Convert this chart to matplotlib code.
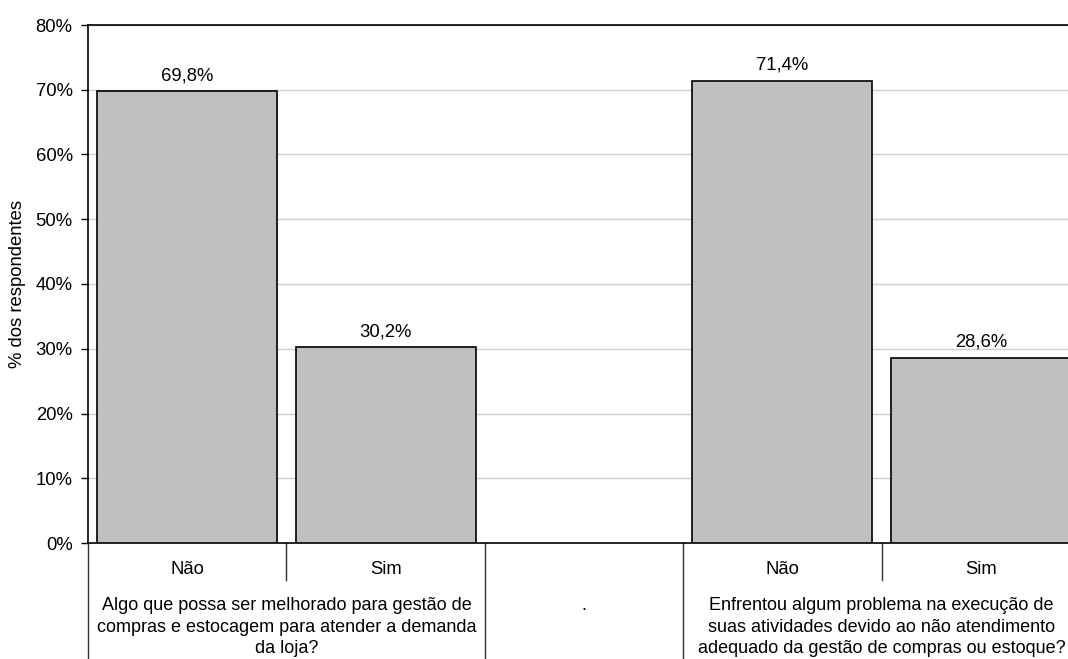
import matplotlib
matplotlib.use('Agg')
import matplotlib.pyplot as plt
from matplotlib.ticker import PercentFormatter

plt.rcParams['font.family'] = ['Liberation Sans', 'DejaVu Sans']

# respostas por pergunta (a posição do meio fica vazia)
categorias = ['Não', 'Sim', '', 'Não', 'Sim']
valores = [69.8, 30.2, None, 71.4, 28.6]
rotulos = ['69,8%', '30,2%', '', '71,4%', '28,6%']
perguntas = [
    'Algo que possa ser melhorado para gestão de\ncompras e estocagem para atender a demanda\nda loja?',
    '.',
    'Enfrentou algum problema na execução de\nsuas atividades devido ao não atendimento\nadequado da gestão de compras ou estoque?',
]
# quais categorias pertencem a cada pergunta (início, fim)
grupos = [(0, 1), (2, 2), (3, 4)]

FS = 13.3
W, H = 1068, 659
fig = plt.figure(figsize=(W / 100, H / 100), dpi=100)
# área de plotagem em pixels: esquerda 88, topo 25, base 543, direita 1080
x0, x1, ytop, ybot = 88, 1080, 25, 543
ax = fig.add_axes([x0 / W, (H - ybot) / H, (x1 - x0) / W, (ybot - ytop) / H])


def py(pix):
    # posição vertical em fração do eixo a partir de pixel da figura
    return (ybot - pix) / (ybot - ytop)


xs = [i for i, v in enumerate(valores) if v is not None]
hs = [v for v in valores if v is not None]
ax.bar(xs, hs, width=0.907, color='#C0C0C0', edgecolor='black', linewidth=1.2, zorder=3)

for i, v in enumerate(valores):
    if v is None:
        continue
    ax.annotate(rotulos[i], (i, v), xytext=(0, 5), textcoords='offset points',
                ha='center', va='bottom', fontsize=FS, color='black')

ax.set_xlim(-0.5, len(categorias) - 0.5)
ax.set_ylim(0, 80)
ax.set_yticks(range(0, 81, 10))
ax.yaxis.set_major_formatter(PercentFormatter(decimals=0))
ax.tick_params(axis='y', labelsize=FS, length=5, width=1, pad=6, colors='black')
ax.set_xticks([])
ax.grid(axis='y', color='#d0d0d0', linewidth=1, zorder=0)
ax.set_axisbelow(True)

ax.spines['right'].set_visible(False)
for lado in ['left', 'bottom', 'top']:
    ax.spines[lado].set_linewidth(1.2)
    ax.spines[lado].set_color('black')

ax.set_ylabel('% dos respondentes', fontsize=FS, labelpad=7)

trans = ax.get_xaxis_transform()

# rótulos das categorias
for i, c in enumerate(categorias):
    if c:
        ax.text(i, py(570), c, transform=trans, ha='center', va='center', fontsize=FS)

# rótulos das perguntas e linhas divisórias
for (a, b), texto in zip(grupos, perguntas):
    ax.text((a + b) / 2, py(597), texto, transform=trans, ha='center', va='top',
            fontsize=13, linespacing=1.36)
    ax.plot([a - 0.5, a - 0.5], [py(ybot), py(H + 5)], transform=trans,
            color='#303030', linewidth=1, clip_on=False)
    for k in range(a, b):
        ax.plot([k + 0.5, k + 0.5], [py(ybot), py(580)], transform=trans,
                color='#303030', linewidth=1, clip_on=False)

fig.savefig('out.png', dpi=100)
